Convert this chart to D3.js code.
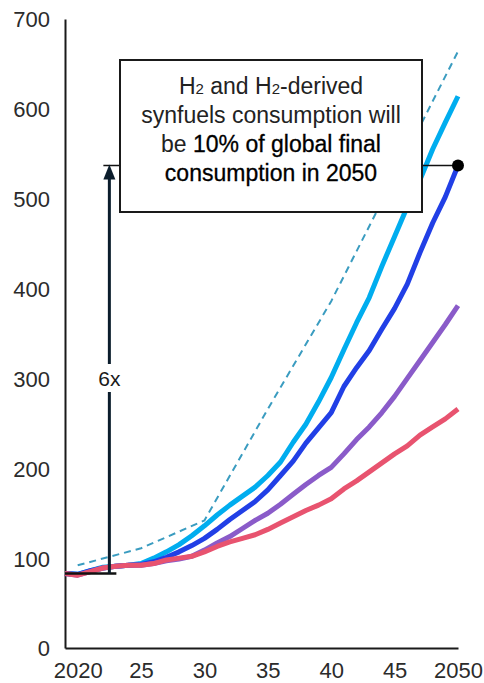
<!DOCTYPE html>
<html>
<head>
<meta charset="utf-8">
<script src="https://cdn.jsdelivr.net/npm/d3@7"></script>
<style>
  html, body { margin: 0; padding: 0; background: #fff; }
  svg { display: block; }
  text { font-family: "Liberation Sans", Arial, sans-serif; }
</style>
</head>
<body>
<svg id="chart" width="484" height="683"></svg>
<script>
// ---- data ----
const years = d3.range(2019, 2051);
const cyanValues   = [83, 82, 86, 90, 91, 92, 94, 100, 107, 115, 125, 136, 148, 159, 169, 179, 192, 207, 229, 249, 274, 301, 332, 362, 390, 425, 458, 491, 521, 555, 585, 614];
const blueValues   = [83, 82, 86, 89, 91, 92, 93, 96, 101, 107, 114, 122, 132, 143, 153, 163, 176, 192, 208, 228, 245, 262, 291, 312, 331, 355, 378, 405, 440, 473, 502, 537];
const purpleValues = [83, 81, 85, 89, 91, 92, 92, 94, 97, 99, 102, 109, 117, 124, 133, 142, 150, 160, 171, 182, 192, 201, 216, 232, 246, 262, 280, 300, 320, 340, 360, 381];
const redValues    = [83, 81, 85, 89, 91, 92, 92, 94, 98, 100, 102, 107, 113, 118, 122, 126, 132, 139, 146, 153, 159, 166, 177, 186, 196, 206, 216, 225, 237, 246, 255, 266];
const dashedYears  = [2020, 2025, 2030, 2035, 2040, 2045, 2050];
const dashedValues = [92, 111, 142, 266, 386, 525, 664];
const xTicks = [2020, 2025, 2030, 2035, 2040, 2045, 2050];
const xTickLabels = ["2020", "25", "30", "35", "40", "45", "2050"];
const yTicks = [0, 100, 200, 300, 400, 500, 600, 700];
const annoYear = 2022.5;
const multLabel = "6x";

const svg = d3.select("#chart");
const x = d3.scaleLinear().domain([2019, 2050]).range([65, 458]);
const y = d3.scaleLinear().domain([0, 700]).range([648, 19]);

// axes
const yAxis = svg.append("g").attr("transform", "translate(65,0)")
  .call(d3.axisLeft(y).tickValues(yTicks).tickSize(0).tickSizeOuter(0).tickPadding(15).tickFormat(d3.format("d")));
const xAxis = svg.append("g").attr("transform", "translate(0,648)")
  .call(d3.axisBottom(x).tickValues(xTicks).tickSize(0).tickSizeOuter(0).tickPadding(14).tickFormat((d, i) => xTickLabels[i]));
[yAxis, xAxis].forEach(g => {
  g.select(".domain").attr("stroke", "#1a1a1a").attr("stroke-width", 2);
  g.selectAll("text").attr("font-size", 22).attr("fill", "#2b2b2b").attr("font-family", "Liberation Sans, Arial, sans-serif");
});
yAxis.selectAll("text").attr("dy", "0.36em");

// lines
const line = d3.line().x((d) => x(d[0])).y((d) => y(d[1]));
const series = [
  { vals: cyanValues, color: "#00ADEF" },
  { vals: blueValues, color: "#213FE6" },
  { vals: purpleValues, color: "#8A5BC9" },
  { vals: redValues, color: "#E8536F" }
];
series.forEach(s => {
  svg.append("path")
    .datum(years.map((yr, i) => [yr, s.vals[i]]))
    .attr("d", line)
    .attr("fill", "none")
    .attr("stroke", s.color)
    .attr("stroke-width", 5)
    .attr("stroke-linejoin", "round");
});
svg.append("path")
  .datum(dashedYears.map((yr, i) => [yr, dashedValues[i]]))
  .attr("d", line)
  .attr("fill", "none")
  .attr("stroke", "#3A9CC0")
  .attr("stroke-width", 2)
  .attr("stroke-dasharray", "7,5");

// annotation
const topV = blueValues[blueValues.length - 1];
const baseV = blueValues[0];
const ax = x(annoYear);
svg.append("line")
  .attr("x1", x(annoYear) - 6).attr("x2", x(2050))
  .attr("y1", y(topV)).attr("y2", y(topV))
  .attr("stroke", "#111").attr("stroke-width", 1.5);
svg.append("line")
  .attr("x1", x(2019)).attr("x2", x(annoYear) + 7)
  .attr("y1", y(baseV)).attr("y2", y(baseV))
  .attr("stroke", "#111").attr("stroke-width", 2.5);
svg.append("line")
  .attr("x1", ax).attr("x2", ax)
  .attr("y1", y(baseV)).attr("y2", y(topV) + 12)
  .attr("stroke", "#0B1D2C").attr("stroke-width", 3);
svg.append("path")
  .attr("d", `M${ax},${y(topV) - 1} L${ax - 6},${y(topV) + 14} L${ax + 6},${y(topV) + 14} Z`)
  .attr("fill", "#0B1D2C");
svg.append("rect")
  .attr("x", ax - 12).attr("y", 364).attr("width", 24).attr("height", 28)
  .attr("fill", "#fff");
svg.append("text")
  .attr("x", ax).attr("y", 386)
  .attr("text-anchor", "middle")
  .attr("font-size", 21).attr("fill", "#1a1a1a")
  .text(multLabel);
svg.append("circle")
  .attr("cx", x(2050)).attr("cy", y(topV)).attr("r", 6)
  .attr("fill", "#000");

// box
const box = { x: 120, y: 60, w: 302, h: 152 };
svg.append("rect")
  .attr("x", box.x).attr("y", box.y).attr("width", box.w).attr("height", box.h)
  .attr("fill", "#fff").attr("stroke", "#1a1a1a").attr("stroke-width", 2);
const cx = box.x + box.w / 2;
const t1 = svg.append("text").attr("x", cx).attr("y", 94).attr("text-anchor", "middle")
  .attr("font-size", 23).attr("fill", "#222");
t1.append("tspan").text("H");
t1.append("tspan").attr("font-size", 15).text("2");
t1.append("tspan").text(" and H");
t1.append("tspan").attr("font-size", 15).text("2");
t1.append("tspan").text("-derived");
svg.append("text").attr("x", cx).attr("y", 123).attr("text-anchor", "middle")
  .attr("font-size", 23).attr("fill", "#222").text("synfuels consumption will");
const t3 = svg.append("text").attr("x", cx).attr("y", 152).attr("text-anchor", "middle")
  .attr("font-size", 23).attr("fill", "#222");
t3.append("tspan").text("be ");
t3.append("tspan").attr("fill", "#000").attr("stroke", "#000").attr("stroke-width", 0.3).text("10% of global final");
svg.append("text").attr("x", cx).attr("y", 181).attr("text-anchor", "middle")
  .attr("font-size", 23).attr("fill", "#000").attr("stroke", "#000").attr("stroke-width", 0.3)
  .text("consumption in 2050");
</script>
</body>
</html>
